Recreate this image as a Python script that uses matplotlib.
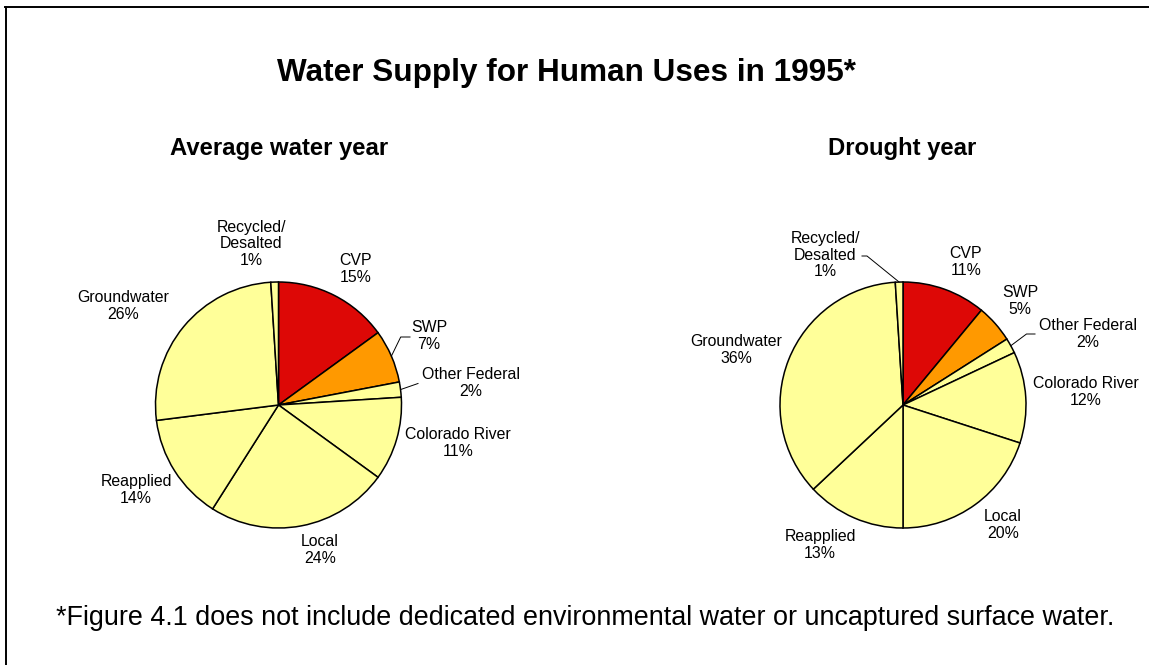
import numpy as np
import matplotlib.pyplot as plt

plt.rcParams['font.family'] = ['Liberation Sans', 'DejaVu Sans']

# Données (pourcentages)
categories = ['CVP', 'SWP', 'Other Federal', 'Colorado River', 'Local',
              'Reapplied', 'Groundwater', 'Recycled/\nDesalted']
moyenne = [15, 7, 2, 11, 24, 14, 26, 1]
secheresse = [11, 5, 2, 12, 20, 13, 36, 1]
couleurs = ['#DD0806', '#FF9900', '#FFFF99', '#FFFF99', '#FFFF99',
            '#FFFF99', '#FFFF99', '#FFFF99']

W, H = 1149, 665
fig = plt.figure(figsize=(W / 100, H / 100), dpi=100)
ax = fig.add_axes([0, 0, 1, 1])

# position des étiquettes (pixels, y vers le bas) et coudes des lignes de rappel
pos_gauche = [(356, 269), (429, 336), (471, 383), (458, 443), (320, 550),
              (136, 490), (123, 306), (251, 244)]
pos_droite = [(966, 262), (1020, 301), (1088, 334), (1086, 392), (1003, 525),
              (820, 545), (736, 350), (825, 255)]
rappels_gauche = {1: [(400.7, 337), (410, 337)], 2: [(418, 383.5)]}
rappels_droite = {7: [(867, 256), (862, 256)], 2: [(1026.5, 334), (1035, 334)]}


def camembert(valeurs, centre, positions, rappels):
    cx, cy = centre
    wedges, _ = ax.pie(valeurs, colors=couleurs, startangle=90, counterclock=False,
                       center=(cx, H - cy), radius=123, frame=True,
                       wedgeprops=dict(edgecolor='black', linewidth=1.1))
    for i, (nom, v) in enumerate(zip(categories, valeurs)):
        x, y = positions[i]
        ax.text(x, H - y, f'{nom}\n{v}%', ha='center', va='center',
                fontsize=11.4, linespacing=1.12)
        if i in rappels:
            w = wedges[i]
            a = np.deg2rad((w.theta1 + w.theta2) / 2)
            xs = [cx + 123 * np.cos(a)] + [p[0] for p in rappels[i]]
            ys = [H - cy + 123 * np.sin(a)] + [H - p[1] for p in rappels[i]]
            ax.plot(xs, ys, color='black', linewidth=0.7)


camembert(moyenne, (278.5, 405), pos_gauche, rappels_gauche)
camembert(secheresse, (903, 405), pos_droite, rappels_droite)

ax.set_xlim(0, W)
ax.set_ylim(0, H)
ax.set_aspect('auto')
ax.axis('off')

# Titres
ax.text(566, H - 73, 'Water Supply for Human Uses in 1995*', ha='center', va='center',
        fontsize=22.7, fontweight='bold')
ax.text(279, H - 148, 'Average water year', ha='center', va='center',
        fontsize=17.2, fontweight='bold')
ax.text(902, H - 148, 'Drought year', ha='center', va='center',
        fontsize=17.2, fontweight='bold')
ax.text(585, H - 618, '*Figure 4.1 does not include dedicated environmental water or uncaptured surface water.',
        ha='center', va='center', fontsize=19.4)

# Cadre (haut et gauche)
ax.plot([5, W], [H - 6.5, H - 6.5], color='black', linewidth=1.4, clip_on=False)
ax.plot([5.5, 5.5], [0, H - 6.5], color='black', linewidth=1.4, clip_on=False)

plt.savefig('out.png', dpi=100)
